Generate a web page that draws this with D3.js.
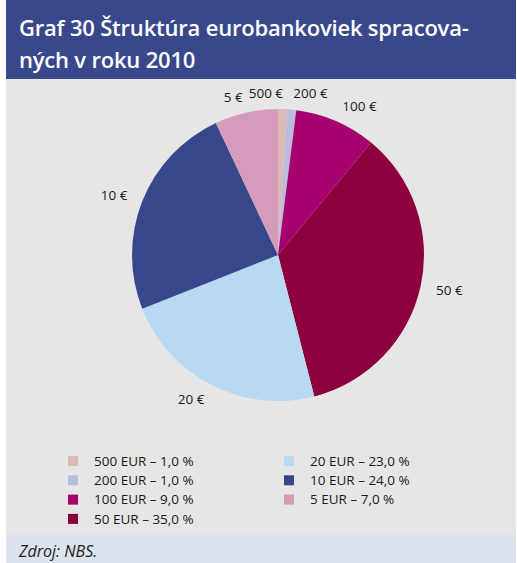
<!DOCTYPE html>
<html>
<head>
<meta charset="utf-8">
<script src="https://cdn.jsdelivr.net/npm/d3@7"></script>
<style>
  body { margin: 0; background: #fff; }
  svg text { font-family: "Open Sans", "Noto Sans", sans-serif; }
</style>
</head>
<body>
<div id="chart"></div>
<script>
  // data
  const titleLines = ["Graf 30 Štruktúra eurobankoviek spracova-", "ných v roku 2010"];
  const denominations = ["500", "200", "100", "50", "20", "10", "5"];
  const shares = [1.0, 1.0, 9.0, 35.0, 23.0, 24.0, 7.0];
  const colors = ["#dcb9b5", "#b9bcdc", "#a7006f", "#8d003d", "#b7d9f4", "#37478c", "#d49bbb"];
  const sourceText = "Zdroj: NBS.";

  const W = 517, H = 563;
  const box = { left: 6, right: 516 };
  const titleH = 79, sourceTop = 534;

  const svg = d3.select("#chart").append("svg")
    .attr("width", W)
    .attr("height", H);

  // backgrounds
  svg.append("rect")
    .attr("x", box.left).attr("y", 0)
    .attr("width", box.right - box.left).attr("height", titleH)
    .attr("fill", "#38488b");
  svg.append("rect")
    .attr("x", box.left).attr("y", titleH)
    .attr("width", box.right - box.left).attr("height", sourceTop - titleH)
    .attr("fill", "#e6e6e6");
  svg.append("rect")
    .attr("x", box.left).attr("y", sourceTop)
    .attr("width", box.right - box.left).attr("height", H - sourceTop)
    .attr("fill", "#dce2ee");

  // title
  svg.append("text")
    .attr("fill", "#fff")
    .style("font-size", "22px")
    .style("font-weight", 600)
    .style("letter-spacing", "-0.2px")
    .selectAll("tspan")
    .data(titleLines)
    .join("tspan")
    .attr("x", 19)
    .attr("y", (d, i) => 36 + i * 32)
    .text(d => d);

  // pie
  const cx = 278, cy = 255, radius = 146;
  const data = denominations.map((d, i) => ({ name: d, value: shares[i], color: colors[i] }));

  const pie = d3.pie()
    .value(d => d.value)
    .sort(null);

  const arc = d3.arc()
    .innerRadius(0)
    .outerRadius(radius);

  const labelArc = d3.arc()
    .innerRadius(radius + 16)
    .outerRadius(radius + 16);

  const g = svg.append("g")
    .attr("transform", "translate(" + cx + "," + cy + ")");

  const arcs = pie(data);

  g.selectAll("path")
    .data(arcs)
    .join("path")
    .attr("d", arc)
    .attr("fill", d => d.data.color);

  g.selectAll("text.lbl")
    .data(arcs)
    .join("text")
    .attr("class", "lbl")
    .attr("transform", d => "translate(" + labelArc.centroid(d) + ")")
    .attr("dy", "0.35em")
    .attr("text-anchor", d => {
      const a = (d.startAngle + d.endAngle) / 2;
      return Math.sin(a) > 0.05 ? "start" : "end";
    })
    .style("font-size", "13.5px")
    .attr("fill", "#1a1a1a")
    .text(d => d.data.name + " €");

  // legend
  const fmt = v => d3.format(".1f")(v).replace(".", ",");
  const legendCol = i => (i < 4 ? 0 : 1);
  const legendRow = i => (i < 4 ? i : i - 4);
  const legend = svg.append("g");

  const item = legend.selectAll("g")
    .data(data)
    .join("g")
    .attr("transform", (d, i) => "translate(" + (68 + legendCol(i) * 216) + "," + (461 + legendRow(i) * 19.3) + ")");

  item.append("rect")
    .attr("x", 0).attr("y", -5)
    .attr("width", 10).attr("height", 10)
    .attr("fill", d => d.color);

  item.append("text")
    .attr("x", 26)
    .attr("dy", "0.35em")
    .style("font-size", "13.5px")
    .attr("fill", "#1a1a1a")
    .text(d => d.name + " EUR – " + fmt(d.value) + " %");

  // source
  svg.append("text")
    .attr("x", 19)
    .attr("y", 557)
    .style("font-size", "16px")
    .style("font-style", "italic")
    .attr("fill", "#1a1a1a")
    .text(sourceText);
</script>
</body>
</html>
